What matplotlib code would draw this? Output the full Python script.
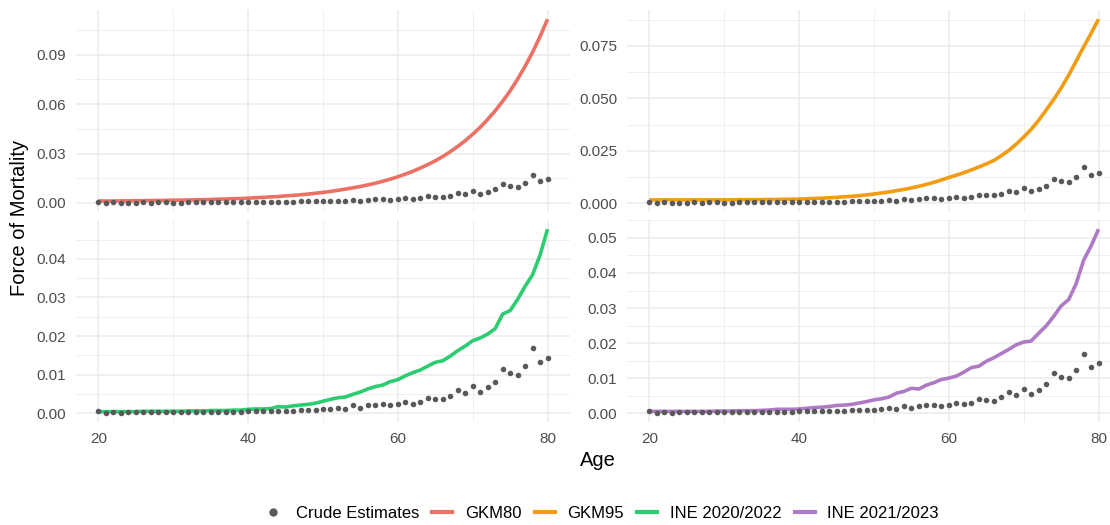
import numpy as np
import matplotlib
matplotlib.use("Agg")
import matplotlib.pyplot as plt
from matplotlib.lines import Line2D

plt.rcParams["font.family"] = ["Liberation Sans", "DejaVu Sans"]

ages = list(range(20, 81))

crude = [0.0005, 0.0001, 0.0003, 0.0001, 0.0002, 0.0002, 0.0003, 0.0002, 0.0004, 0.0003,
         0.0002, 0.0002, 0.0003, 0.0004, 0.0003, 0.0004, 0.0003, 0.0003, 0.0003, 0.0003,
         0.0006, 0.0006, 0.0006, 0.0007, 0.0007, 0.0007, 0.0007, 0.0009, 0.0009, 0.0009,
         0.0010, 0.0012, 0.0014, 0.0012, 0.0020, 0.0014, 0.0020, 0.0022, 0.0024, 0.0020,
         0.0024, 0.0029, 0.0025, 0.0029, 0.0040, 0.0037, 0.0036, 0.0045, 0.0059, 0.0052,
         0.0070, 0.0056, 0.0067, 0.0082, 0.0114, 0.0104, 0.0099, 0.0122, 0.0170, 0.0133,
         0.0144]

gkm80 = [0.0012, 0.0012, 0.0012, 0.0013, 0.0013, 0.0014, 0.0014, 0.0015, 0.0015, 0.0016,
         0.0017, 0.0017, 0.0018, 0.0019, 0.0020, 0.0021, 0.0023, 0.0024, 0.0026, 0.0027,
         0.0029, 0.0032, 0.0034, 0.0037, 0.0039, 0.0043, 0.0046, 0.0050, 0.0054, 0.0059,
         0.0064, 0.0070, 0.0077, 0.0084, 0.0092, 0.0100, 0.0110, 0.0120, 0.0132, 0.0145,
         0.0159, 0.0175, 0.0192, 0.0212, 0.0233, 0.0256, 0.0282, 0.0311, 0.0343, 0.0378,
         0.0417, 0.0459, 0.0507, 0.0559, 0.0617, 0.0680, 0.0751, 0.0829, 0.0915, 0.1010,
         0.1115]

gkm95 = [0.0015, 0.0015, 0.0015, 0.0015, 0.0015, 0.0015, 0.0015, 0.0015, 0.0015, 0.0015,
         0.0015, 0.0015, 0.0016, 0.0016, 0.0016, 0.0016, 0.0017, 0.0017, 0.0018, 0.0018,
         0.0019, 0.0020, 0.0022, 0.0023, 0.0025, 0.0027, 0.0030, 0.0032, 0.0035, 0.0039,
         0.0043, 0.0048, 0.0053, 0.0059, 0.0065, 0.0072, 0.0080, 0.0089, 0.0099, 0.0110,
         0.0122, 0.0133, 0.0145, 0.0158, 0.0172, 0.0187, 0.0203, 0.0226, 0.0251, 0.0281,
         0.0315, 0.0352, 0.0395, 0.0444, 0.0494, 0.0549, 0.0610, 0.0677, 0.0745, 0.0810,
         0.0878]

ine_2020 = [0.0004, 0.0004, 0.0004, 0.0004, 0.0004, 0.0004, 0.0005, 0.0005, 0.0005, 0.0005,
            0.0005, 0.0005, 0.0006, 0.0006, 0.0006, 0.0007, 0.0007, 0.0007, 0.0008, 0.0008,
            0.0010, 0.0011, 0.0011, 0.0012, 0.0017, 0.0016, 0.0019, 0.0021, 0.0023, 0.0026,
            0.0031, 0.0036, 0.0040, 0.0042, 0.0049, 0.0055, 0.0063, 0.0069, 0.0073, 0.0082,
            0.0087, 0.0097, 0.0105, 0.0112, 0.0122, 0.0132, 0.0136, 0.0148, 0.0162, 0.0174,
            0.0188, 0.0195, 0.0205, 0.0219, 0.0257, 0.0266, 0.0295, 0.0329, 0.0359, 0.0410,
            0.0477]

ine_2021 = [0.0005, 0.0005, 0.0005, 0.0005, 0.0005, 0.0005, 0.0005, 0.0005, 0.0005, 0.0006,
            0.0006, 0.0006, 0.0007, 0.0007, 0.0007, 0.0008, 0.0009, 0.0011, 0.0011, 0.0011,
            0.0012, 0.0014, 0.0016, 0.0017, 0.0019, 0.0022, 0.0023, 0.0025, 0.0029, 0.0033,
            0.0038, 0.0041, 0.0046, 0.0057, 0.0062, 0.0071, 0.0069, 0.0080, 0.0087, 0.0096,
            0.0100, 0.0106, 0.0117, 0.0130, 0.0134, 0.0148, 0.0158, 0.0170, 0.0182, 0.0195,
            0.0203, 0.0206, 0.0228, 0.0249, 0.0276, 0.0306, 0.0324, 0.0369, 0.0436, 0.0477,
            0.0525]

tables = ["GKM80", "GKM95", "INE 2020/2022", "INE 2021/2023"]
rates = [gkm80, gkm95, ine_2020, ine_2021]
colours = ["#EC7063", "#F39C12", "#2ECC71", "#AF7AC5"]
y_breaks = [[0, 0.03, 0.06, 0.09],
            [0, 0.025, 0.05, 0.075],
            [0, 0.01, 0.02, 0.03, 0.04],
            [0, 0.01, 0.02, 0.03, 0.04, 0.05]]
y_fmt = ["{:.2f}", "{:.3f}", "{:.2f}", "{:.2f}"]
x_breaks = [20, 40, 60, 80]


def expanded(vals, frac=0.05):
    lo, hi = min(vals), max(vals)
    pad = (hi - lo) * frac
    return lo - pad, hi + pad


W, H = 1110, 525
fig = plt.figure(figsize=(W / 100, H / 100), dpi=100)

# panel boxes in pixels: left, top, width, height
panels = [(76, 10), (627, 10), (76, 220), (627, 220)]
pw, ph = 494, 202

crude_col = "#595959"
grid_col = "#EBEBEB"

for i, (name, mu, col) in enumerate(zip(tables, rates, colours)):
    left, top = panels[i]
    ax = fig.add_axes([left / W, 1 - (top + ph) / H, pw / W, ph / H])
    ax.plot(ages, crude, "o", color=crude_col, markersize=4.0, markeredgewidth=0, zorder=3)
    ax.plot(ages, mu, color=col, linewidth=2.6, solid_capstyle="butt", zorder=2)

    yb = y_breaks[i]
    ax.set_yticks(yb)
    ax.set_yticklabels([y_fmt[i].format(v) for v in yb])
    step = yb[1] - yb[0]
    ax.set_yticks([v + step / 2 for v in [yb[0] - step] + yb], minor=True)
    ax.set_xticks(x_breaks)
    ax.set_xticks([30, 50, 70], minor=True)
    if i < 2:
        ax.set_xticklabels([])
    ax.set_xlim(*expanded(ages))
    ax.set_ylim(*expanded(crude + mu))

    ax.grid(which="major", color=grid_col, linewidth=1.1)
    ax.grid(which="minor", color=grid_col, linewidth=0.55)
    ax.set_axisbelow(True)
    for s in ax.spines.values():
        s.set_visible(False)
    ax.tick_params(which="both", length=0, labelsize=11, labelcolor="#4D4D4D")
    ax.tick_params(axis="y", pad=7)
    ax.tick_params(axis="x", pad=7)

fig.text(598 / W, 1 - 461 / H, "Age", fontsize=14.5, ha="center", va="center")
fig.text(20 / W, 1 - 218 / H, "Force of Mortality", fontsize=14.5, rotation=90,
         ha="center", va="center")

handles = [Line2D([], [], linestyle="none", marker="o", color=crude_col,
                  markersize=6, markeredgewidth=0)]
handles += [Line2D([], [], color=c, linewidth=3) for c in colours]
labels = ["Crude Estimates"] + tables
fig.legend(handles, labels, loc="center", bbox_to_anchor=(601 / W, 1 - 513 / H),
           ncol=5, frameon=False, fontsize=12, handlelength=1.2, handletextpad=0.75,
           columnspacing=0.8, borderaxespad=0)

fig.savefig("out.png", dpi=100)
